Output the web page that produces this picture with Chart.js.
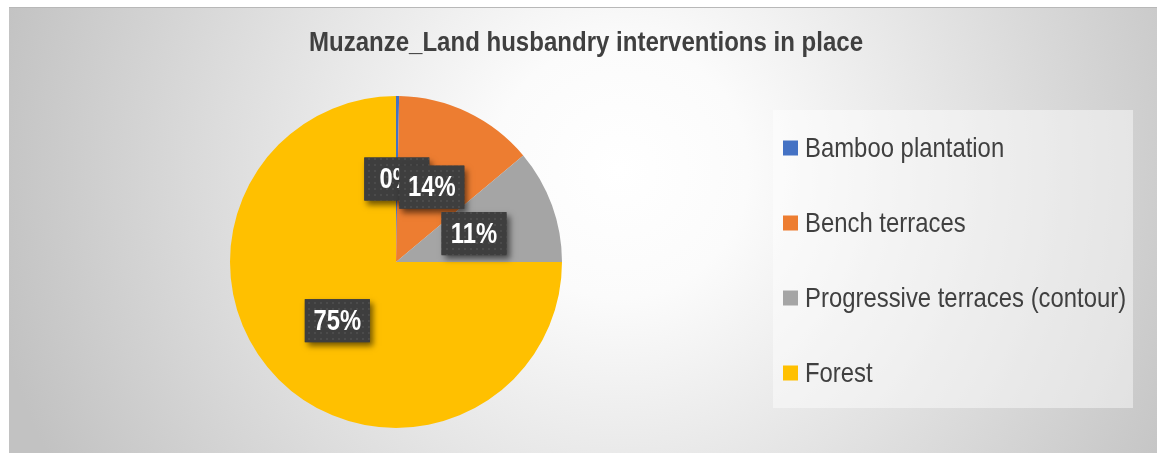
<!DOCTYPE html>
<html>
<head>
<meta charset="utf-8">
<script src="https://cdn.jsdelivr.net/npm/chart.js@4/dist/chart.umd.min.js"></script>
<style>
  html, body { margin: 0; padding: 0; background: #ffffff; }
  #wrap { width: 1157px; height: 453px; position: relative; }
</style>
</head>
<body>
<div id="wrap"><canvas id="pie"></canvas></div>
<script>
const TITLE = 'Muzanze_Land husbandry interventions in place';
const categories = ['Bamboo plantation', 'Bench terraces', 'Progressive terraces (contour)', 'Forest'];
const shares = [0.3, 13.6, 11.1, 75.0];
const colors = ['#4472C4', '#ED7D31', '#A5A5A5', '#FFC000'];

const FONT = '"Liberation Sans", Arial, sans-serif';
const TEXT_COL = '#404040';

// condensed text: squeeze horizontally around x
function narrowText(ctx, txt, x, y, sx) {
    ctx.save();
    ctx.translate(x, y);
    ctx.scale(sx, 1);
    ctx.fillText(txt, 0, 0);
    ctx.restore();
}

// dotted fill for the label boxes
function makeDots() {
    const c = document.createElement('canvas');
    c.width = 6; c.height = 6;
    const g = c.getContext('2d');
    g.fillStyle = '#3e3e3e';
    g.fillRect(0, 0, 6, 6);
    g.fillStyle = '#4b4b4b';
    g.fillRect(2, 2, 2, 2);
    return c;
}
const dots = makeDots();

// frame with radial grey gradient
const backdrop = {
    id: 'backdrop',
    beforeDraw(chart) {
        const ctx = chart.ctx;
        ctx.save();
        const grad = ctx.createRadialGradient(620, 170, 0, 620, 170, 640);
        grad.addColorStop(0, '#ffffff');
        grad.addColorStop(0.2, '#fbfbfb');
        grad.addColorStop(1, '#c2c2c2');
        ctx.fillStyle = grad;
        ctx.fillRect(9, 7, chart.width - 9, chart.height - 7);
        ctx.fillStyle = '#b8b8b8';
        ctx.fillRect(9, 7, chart.width - 9, 1);

        // title
        ctx.fillStyle = TEXT_COL;
        ctx.font = 'bold 27px ' + FONT;
        ctx.textAlign = 'center';
        ctx.textBaseline = 'alphabetic';
        narrowText(ctx, TITLE, 586, 51, 0.89);
        ctx.restore();
    }
};

// dark boxed percentage labels
const boxLabels = {
    id: 'boxLabels',
    afterDatasetsDraw(chart) {
        const ctx = chart.ctx;
        const meta = chart.getDatasetMeta(0);
        const total = shares.reduce((a, b) => a + b, 0);
        ctx.save();
        ctx.font = 'bold 29px ' + FONT;
        ctx.textAlign = 'center';
        ctx.textBaseline = 'middle';
        meta.data.forEach((arc, i) => {
            const p = arc.tooltipPosition();
            const txt = Math.round(shares[i] / total * 100) + '%';
            const w = 65, h = 43;
            const x = p.x - w / 2, y = p.y - h / 2;
            ctx.save();
            ctx.shadowColor = 'rgba(0,0,0,0.55)';
            ctx.shadowBlur = 6;
            ctx.shadowOffsetX = 3;
            ctx.shadowOffsetY = 4;
            ctx.fillStyle = '#3e3e3e';
            ctx.fillRect(x, y, w, h);
            ctx.restore();
            ctx.fillStyle = ctx.createPattern(dots, 'repeat');
            ctx.fillRect(x, y, w, h);
            ctx.fillStyle = '#ffffff';
            narrowText(ctx, txt, p.x, p.y + 1, 0.82);
        });
        ctx.restore();
    }
};

// legend panel on the right
const sideLegend = {
    id: 'sideLegend',
    afterDraw(chart) {
        const ctx = chart.ctx;
        ctx.save();
        ctx.fillStyle = 'rgba(255,255,255,0.45)';
        ctx.fillRect(773, 110, 360, 298);
        ctx.font = '28px ' + FONT;
        ctx.textAlign = 'left';
        ctx.textBaseline = 'middle';
        categories.forEach((name, i) => {
            const cy = 148 + i * 75;
            ctx.fillStyle = colors[i];
            ctx.fillRect(783, cy - 7.5, 15, 15);
            ctx.fillStyle = TEXT_COL;
            narrowText(ctx, name, 805, cy + 1, 0.853);
        });
        ctx.restore();
    }
};

new Chart(document.getElementById('pie'), {
    type: 'pie',
    data: {
        labels: categories,
        datasets: [{
            data: shares,
            backgroundColor: colors,
            borderWidth: 0
        }]
    },
    options: {
        responsive: true,
        maintainAspectRatio: false,
        animation: false,
        layout: { padding: { left: 230, right: 595, top: 96, bottom: 25 } },
        plugins: {
            legend: { display: false },
            tooltip: { enabled: false },
            title: { display: false }
        }
    },
    plugins: [backdrop, boxLabels, sideLegend]
});
</script>
</body>
</html>
